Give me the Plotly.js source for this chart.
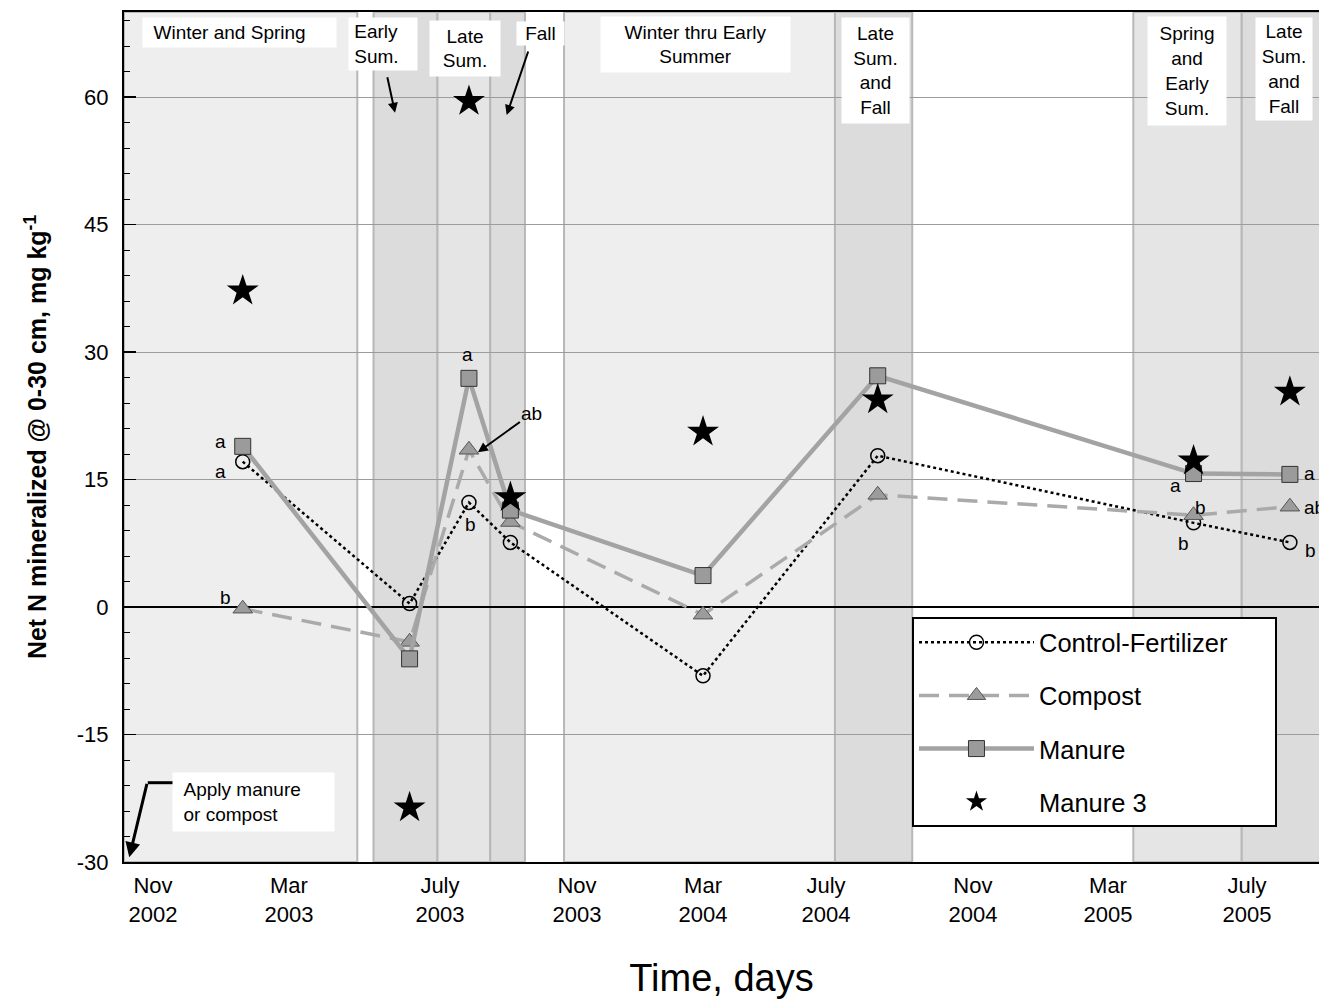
<!DOCTYPE html>
<html><head><meta charset="utf-8">
<script src="https://cdn.plot.ly/plotly-3.0.1.min.js"></script>
<style>html,body{margin:0;padding:0;background:#fff}#chart{width:1319px;height:999px}</style>
</head><body><div id="chart"></div>
<script>
// Sampling times (days since start of the study)
const sampleDays = [106, 255, 308, 345, 517, 673, 955, 1041];
// Net N mineralized @ 0-30 cm, mg kg-1
const controlFertilizer = [17.1, 0.4, 12.3, 7.6, -8.1, 17.8, 9.9, 7.6];
const compost = [-0.2, -4.1, 18.5, 10.0, -0.9, 13.2, 10.8, 11.8];
const manure = [18.9, -6.1, 26.9, 11.4, 3.7, 27.2, 15.7, 15.6];
const manure3 = [37.2, -23.6, 59.5, 12.9, 20.6, 24.4, 17.2, 25.3];
const seriesNames = ['Control-Fertilizer', 'Compost', 'Manure', 'Manure 3'];

// Month labels along the time axis
const monthTickDays = [25.9, 147.3, 282.1, 404.5, 517, 626.8, 758, 878.6, 1002.7];
const monthTickLabels = ['Nov<br>2002', 'Mar<br>2003', 'July<br>2003', 'Nov<br>2003', 'Mar<br>2004',
  'July<br>2004', 'Nov<br>2004', 'Mar<br>2005', 'July<br>2005'];
// Y axis ticks
const yTickValues = [-30, -15, 0, 15, 30, 45, 60];
const yTickLabels = ['-30', '-15', '0', '15', '30', '45', '60'];

// Season bands (days)
const bandStart = [0, 222.8, 279.9, 327, 392.9, 634.8, 901.2, 998];
const bandEnd = [208.3, 279.9, 327, 358, 634.8, 703.8, 998, 1100];
const bandKind = ['stipple', 'solid', 'hatch', 'solid', 'stipple', 'solid', 'hatch', 'solid'];

const FONT = 'Arial, "Liberation Sans", sans-serif';
const bandFill = {stipple: '#eeeeee', solid: '#dcdcdc', hatch: '#e5e5e5'};
const nb = '\u00a0';
const legendPad = nb.repeat(6);

const shapes = bandStart.map((s, i) => ({
  type: 'rect', xref: 'x', yref: 'paper', x0: s, x1: bandEnd[i], y0: 0, y1: 1,
  fillcolor: bandFill[bandKind[i]], line: {color: '#b8b8b8', width: 2}, layer: 'below'
}));
// leader line of the "Apply manure or compost" arrow
shapes.push({type: 'line', xref: 'x', yref: 'y', x0: 21.2, x1: 44.6, y0: -20.67, y1: -20.67,
  line: {color: 'black', width: 3}});

const traces = [
  {x: sampleDays, y: controlFertilizer, name: seriesNames[0] + legendPad, type: 'scatter', mode: 'lines+markers',
   legendgroup: 'g1', line: {color: 'black', width: 2.5, dash: 'dot'},
   marker: {symbol: 'circle-open', size: 14, color: 'black', line: {width: 1.5, color: 'black'}}},
  {x: sampleDays, y: compost, name: seriesNames[1], type: 'scatter', mode: 'lines+markers',
   legendgroup: 'g2', line: {color: '#aaaaaa', width: 3.5, dash: '20px,10px'},
   marker: {symbol: 'triangle-up', size: 17, color: '#9c9c9c', line: {width: 1, color: '#555'}}},
  {x: sampleDays, y: manure, name: seriesNames[2], type: 'scatter', mode: 'lines+markers',
   legendgroup: 'g3', line: {color: '#a3a3a3', width: 4.5},
   marker: {symbol: 'square', size: 16, color: '#9b9b9b', line: {width: 1, color: '#333'}}},
  {x: sampleDays, y: manure3, name: seriesNames[3], type: 'scatter', mode: 'markers',
   legendgroup: 'g4', marker: {symbol: 'star', size: 24, color: 'black', line: {width: 0}}}
];

function box(text, x, y, w, h, align) {
  return {text: text, x: x, y: y, xref: 'x', yref: 'y', showarrow: false, width: w, height: h,
    bgcolor: 'white', borderpad: 0, align: align || 'center', valign: 'middle',
    font: {family: FONT, size: 19, color: 'black'}};
}
function letter(text, x, y, xanchor) {
  return {text: text, x: x, y: y, xref: 'x', yref: 'y', showarrow: false, xanchor: xanchor || 'center',
    font: {family: FONT, size: 19, color: 'black'}};
}
const annotations = [
  box(nb + nb + 'Winter and Spring', 103.1, 67.59, 193, 29, 'left'),
  box(nb + 'Early<br>' + nb + 'Sum.', 231.25, 66.24, 68, 52, 'left'),
  box('Late<br>Sum.', 304.5, 65.71, 70, 55),
  box('Fall', 371.7, 67.53, 47, 23),
  box('Winter thru Early<br>Summer', 510.3, 66.12, 189, 55),
  box('Late<br>Sum.<br>and<br>Fall', 671, 63.12, 67, 105),
  box('Spring<br>and<br>Early<br>Sum.', 949.1, 63.06, 78, 108),
  box('Late<br>Sum.<br>and<br>Fall', 1035.7, 63.29, 56, 102),
  box(nb + nb + 'Apply manure<br>' + nb + nb + 'or compost', 115.2, -22.94, 161, 58, 'left'),
  // arrows
  {x: 242, y: 58.15, xref: 'x', yref: 'y', text: '', showarrow: true, ax: -8, ay: -37,
   arrowhead: 2, arrowsize: 1, arrowwidth: 2, arrowcolor: 'black'},
  {x: 341.7, y: 57.88, xref: 'x', yref: 'y', text: '', showarrow: true, ax: 22, ay: -65,
   arrowhead: 2, arrowsize: 1, arrowwidth: 2, arrowcolor: 'black'},
  {x: 4.7, y: -29.45, xref: 'x', yref: 'y', text: '', showarrow: true, ax: 18, ay: -75,
   arrowhead: 2, arrowsize: 1, arrowwidth: 3, arrowcolor: 'black'},
  {x: 316, y: 18.2, xref: 'x', yref: 'y', text: 'ab', showarrow: true, ax: 54, ay: -39,
   arrowhead: 2, arrowsize: 1, arrowwidth: 2, arrowcolor: 'black',
   font: {family: FONT, size: 19, color: 'black'}},
  // significance letters
  letter('a', 86.6, 19.5), letter('a', 86.6, 16.0), letter('b', 90.2, 1.06),
  letter('a', 306.3, 29.7), letter('b', 309.8, 9.65),
  letter('a', 939.3, 14.35), letter('b', 961.6, 11.76), letter('b', 946.4, 7.53),
  letter('a', 1051.8, 15.65, 'left'), letter('ab', 1051.8, 11.65, 'left'), letter('b', 1052.7, 6.7, 'left')
];

const layout = {
  width: 1319, height: 999,
  margin: {l: 124, r: 0, t: 12, b: 137},
  paper_bgcolor: 'white', plot_bgcolor: 'white',
  font: {family: FONT, color: 'black'},
  showlegend: true,
  legend: {x: 0.6594, y: 0.2880, xanchor: 'left', yanchor: 'top', bgcolor: 'white',
    bordercolor: 'black', borderwidth: 2, font: {family: FONT, size: 25.5, color: 'black'},
    traceorder: 'grouped', tracegroupgap: 17, itemwidth: 115},
  xaxis: {range: [0, 1067], tickmode: 'array', tickvals: monthTickDays, ticktext: monthTickLabels,
    ticks: '', showgrid: false, zeroline: false, showline: true, linecolor: 'black', linewidth: 2,
    mirror: true, ticklabelstandoff: 3, tickfont: {family: FONT, size: 22, color: 'black'},
    title: {text: 'Time, days', font: {family: FONT, size: 38, color: 'black'}, standoff: 44}},
  xaxis2: {overlaying: 'x', anchor: 'y', side: 'bottom', range: [0, 1067], tick0: 0, dtick: 50,
    ticks: 'inside', ticklen: 10, tickwidth: 1.5, tickcolor: 'black', showticklabels: false,
    showgrid: false, zeroline: false, showline: false,
    minor: {dtick: 10, tick0: 0, ticks: 'inside', ticklen: 5, tickwidth: 1, tickcolor: 'black', showgrid: false}},
  yaxis: {range: [-30, 70], tickmode: 'array', tickvals: yTickValues, ticktext: yTickLabels,
    ticks: 'inside', ticklen: 12, tickwidth: 1.5, tickcolor: 'black',
    minor: {dtick: 3, tick0: 0, ticks: 'inside', ticklen: 6, tickwidth: 1, tickcolor: 'black', showgrid: false},
    showgrid: true, gridcolor: '#9c9c9c', gridwidth: 1,
    zeroline: true, zerolinecolor: 'black', zerolinewidth: 1.5,
    showline: true, linecolor: 'black', linewidth: 2, ticklabelstandoff: 9,
    tickfont: {family: FONT, size: 22, color: 'black'},
    title: {text: '<b>Net N mineralized @ 0-30 cm, mg kg<sup>-1</sup></b>',
      font: {family: FONT, size: 25, color: 'black'}, standoff: 23}},
  shapes: shapes,
  annotations: annotations
};

Plotly.newPlot('chart', traces, layout, {displayModeBar: false, staticPlot: true});
</script></body></html>
